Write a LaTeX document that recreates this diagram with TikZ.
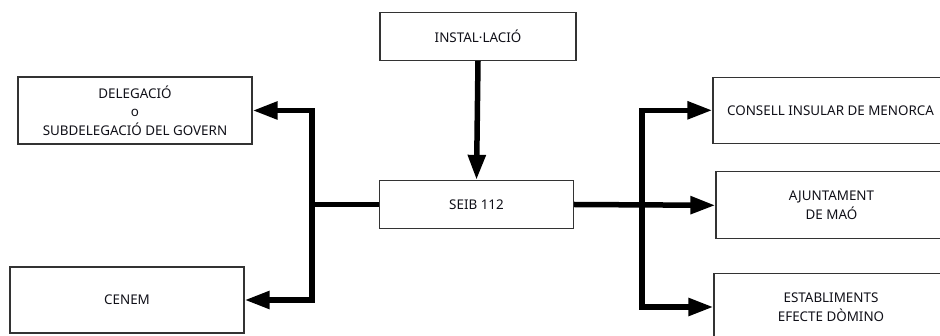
\documentclass[tikz,border=0pt]{standalone}
\usepackage{fontspec}
\setmainfont{Noto Sans}
\usetikzlibrary{arrows.meta}
\definecolor{boxline}{HTML}{333333}
\definecolor{boxtext}{HTML}{101018}
\begin{document}
\begin{tikzpicture}[x=1pt,y=-1pt]

      \useasboundingbox (0,0) rectangle (940,336);

      \begin{scope}[every node/.style={rectangle,draw=boxline,line width=1.3pt,
          text=boxtext,align=center,inner sep=0pt,
          font=\fontsize{13.4}{18.5}\selectfont}]
        \node[minimum width=196,minimum height=48] (inst)    at (478,36.2)  {INSTAL·LACIÓ};
        \node[minimum width=194,minimum height=48] (seib)    at (476.5,204.5) {SEIB 112};
        \node[minimum width=234,minimum height=67] (deleg)   at (135,110.5) {DELEGACIÓ\\o\\SUBDELEGACIÓ DEL GOVERN};
        \node[minimum width=234,minimum height=66] (cenem)   at (127,300)   {CENEM};
        \node[minimum width=235,minimum height=66] (consell) at (830.5,110.3) {CONSELL INSULAR DE MENORCA};
        \node[minimum width=231,minimum height=67] (ajunt)   at (831.5,205.3) {AJUNTAMENT\\DE MAÓ};
        \node[minimum width=234,minimum height=67] (estab)   at (831,307)   {ESTABLIMENTS\\EFECTE DÒMINO};
      \end{scope}

      \coordinate (lj) at (312,204.5);
      \coordinate (rj) at (642,204.5);

      \begin{scope}[every path/.style={draw,line width=5.5pt,-{Triangle[length=25pt,width=17pt]}}]
        \path (inst.south) -- (seib.north);
        \path (seib.west) -- (lj) |- (deleg.east);
        \path (lj) |- (cenem.east);
        \path (seib.east) -- (ajunt.west);
        \path (rj) |- (consell.west);
        \path (rj) |- (estab.west);
      \end{scope}

    \end{tikzpicture}
\end{document}
